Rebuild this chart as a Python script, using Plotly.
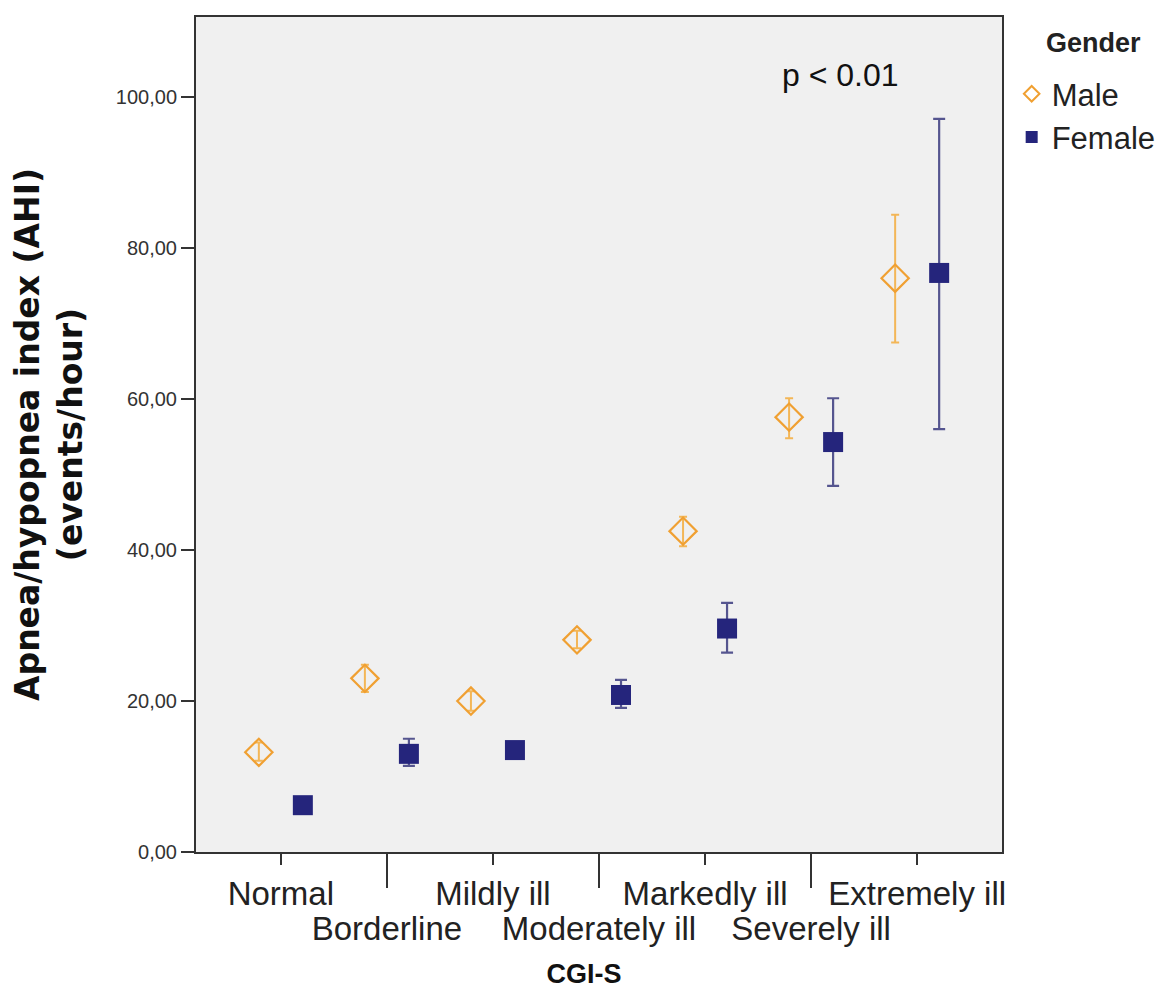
import plotly.graph_objects as go

categories = ["Normal", "Borderline", "Mildly ill", "Moderately ill",
              "Markedly ill", "Severely ill", "Extremely ill"]

male_mean = [13.2, 23.0, 20.0, 28.1, 42.5, 57.6, 76.0]
male_hi = [14.5, 24.8, 21.3, 29.3, 44.4, 60.1, 84.4]
male_lo = [12.1, 21.2, 18.7, 27.0, 40.5, 54.8, 67.5]

female_mean = [6.2, 13.0, 13.5, 20.8, 29.6, 54.3, 76.7]
female_hi = [6.6, 15.0, 14.3, 22.8, 33.0, 60.1, 97.1]
female_lo = [5.8, 11.4, 12.7, 19.1, 26.4, 48.5, 56.0]

y_ticks = [0, 20, 40, 60, 80, 100]

MALE_C = "#F0A032"
MALE_ERR = "#F3B657"
FEMALE_C = "#25257C"
FEMALE_ERR = "#55558F"
AXIS_C = "#333333"
SANS = "Liberation Sans, Arial, sans-serif"

fig = go.Figure()

fig.add_trace(go.Scatter(
    x=categories, y=male_mean, name="Male", mode="markers",
    marker=dict(symbol="diamond-open", size=21, color=MALE_C,
                line=dict(width=2.2, color=MALE_C)),
    error_y=dict(type="data", symmetric=False,
                 array=[h - m for h, m in zip(male_hi, male_mean)],
                 arrayminus=[m - l for l, m in zip(male_lo, male_mean)],
                 color=MALE_ERR, thickness=2, width=4),
))
fig.add_trace(go.Scatter(
    x=categories, y=female_mean, name="Female", mode="markers",
    marker=dict(symbol="square", size=20, color=FEMALE_C,
                line=dict(width=0)),
    error_y=dict(type="data", symmetric=False,
                 array=[h - m for h, m in zip(female_hi, female_mean)],
                 arrayminus=[m - l for l, m in zip(female_lo, female_mean)],
                 color=FEMALE_ERR, thickness=2.2, width=6),
))
# helper trace so the second (staggered-label) x axis is drawn
fig.add_trace(go.Scatter(
    x=categories, y=[None] * len(categories), xaxis="x2", mode="markers",
    showlegend=False, hoverinfo="skip",
))

label_font = dict(family=SANS, size=33, color="#222222")
xrange = [-0.8, len(categories) - 0.2]

fig.update_layout(
    width=1176, height=1001,
    margin=dict(l=188, r=182, t=9, b=157, autoexpand=False),
    paper_bgcolor="white", plot_bgcolor="#F0F0F0",
    separators=",.",
    scattermode="group", scattergap=0.17,
    font=dict(family=SANS, color="#222222"),
    xaxis=dict(
        type="category", categoryorder="array", categoryarray=categories,
        range=xrange,
        tickmode="array", tickvals=categories,
        ticktext=[c if i % 2 == 0 else "" for i, c in enumerate(categories)],
        ticks="outside", ticklen=11, tickwidth=2, tickcolor=AXIS_C,
        tickfont=label_font,
        showline=True, linewidth=2, linecolor=AXIS_C, mirror=True,
        showgrid=False, zeroline=False,
        title=dict(text="<b>CGI-S</b>&nbsp;&nbsp;&nbsp;&nbsp;", standoff=54,
                   font=dict(family=SANS, size=27, color="#111111")),
    ),
    xaxis2=dict(
        type="category", categoryorder="array", categoryarray=categories,
        overlaying="x", side="bottom", anchor="y",
        range=xrange,
        tickmode="array", tickvals=categories[1::2], ticktext=categories[1::2],
        ticks="outside", ticklen=35, tickwidth=2, tickcolor=AXIS_C,
        ticklabelstandoff=12,
        tickfont=label_font,
        showline=False, showgrid=False, zeroline=False,
    ),
    yaxis=dict(
        range=[0, 110.6],
        tickmode="array", tickvals=y_ticks, tickformat=".2f",
        ticks="outside", ticklen=13, tickwidth=2, tickcolor=AXIS_C,
        tickfont=dict(family=SANS, size=20, color="#333333"),
        showline=True, linewidth=2, linecolor=AXIS_C, mirror=True,
        showgrid=False, zeroline=False,
        title=dict(text="<b>Apnea/hypopnea index (AHI)<br>(events/hour)</b>", standoff=24,
                   font=dict(family="DejaVu Sans, Liberation Sans, sans-serif", size=33, color="#111111")),
    ),
    legend=dict(
        x=1.012, y=0.94, xanchor="left", yanchor="top",
        font=dict(family=SANS, size=31, color="#222222"),
        bgcolor="rgba(0,0,0,0)", itemsizing="constant", tracegroupgap=0,
    ),
    annotations=[
        dict(text="p &lt; 0.01", xref="paper", yref="paper", x=0.80, y=0.931,
             xanchor="center", yanchor="middle", showarrow=False,
             font=dict(family=SANS, size=32, color="#111111")),
        dict(text="<b>Gender</b>", xref="paper", yref="paper", x=1.113, y=0.969,
             xanchor="center", yanchor="middle", showarrow=False,
             font=dict(family=SANS, size=27, color="#222222")),
    ],
)

fig.write_html("out.html")
